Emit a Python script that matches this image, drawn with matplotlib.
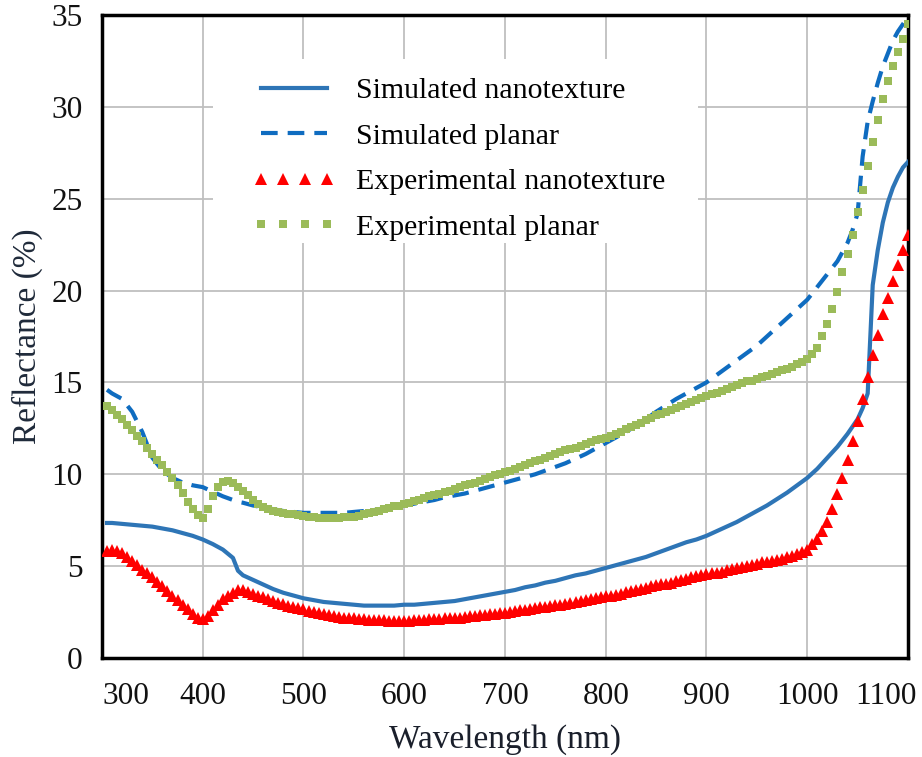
import matplotlib
matplotlib.use("Agg")
import matplotlib.pyplot as plt
import matplotlib.transforms as mtransforms
from matplotlib.patches import Rectangle
import numpy as np

plt.rcParams['font.family'] = ['Liberation Serif', 'DejaVu Serif']

# simulated curves (nm grid)
sim_wl = np.concatenate([[305], np.arange(310, 431, 10), [435],
                         np.arange(440, 1000, 10), np.arange(1000, 1101, 5)])

sim_nano = [7.35, 7.35, 7.3, 7.25, 7.2, 7.15, 7.05, 6.95, 6.8, 6.65, 6.45, 6.2, 5.9, 5.45, 4.75, 4.5,
            4.25, 4.0, 3.75, 3.55, 3.4, 3.25, 3.15, 3.05, 3.0, 2.95, 2.9, 2.85, 2.85, 2.85, 2.85,
            2.9, 2.9, 2.95, 3.0, 3.05, 3.1, 3.2, 3.3, 3.4, 3.5, 3.6, 3.7, 3.85, 3.95, 4.1, 4.2,
            4.35, 4.5, 4.6, 4.75, 4.9, 5.05, 5.2, 5.35, 5.5, 5.7, 5.9, 6.1, 6.3, 6.45, 6.65,
            6.9, 7.15, 7.4, 7.7, 8.0, 8.3, 8.65, 9.0, 9.4,
            9.8, 10.05, 10.3, 10.6, 10.9, 11.2, 11.5, 11.85, 12.2, 12.6, 13.0, 13.6, 14.4,
            20.3, 22.2, 23.7, 24.8, 25.6, 26.2, 26.7, 27.0]

sim_planar = [14.6, 14.4, 14.1, 13.4, 12.3, 10.9, 10.2, 9.8, 9.55, 9.4, 9.3, 9.05, 8.8, 8.6, 8.5, 8.45,
              8.3, 8.2, 8.1, 8.0, 7.95, 7.9, 7.9, 7.9, 7.9, 7.9, 7.95, 8.0, 8.05, 8.15, 8.2,
              8.3, 8.4, 8.5, 8.6, 8.75, 8.85, 8.95, 9.1, 9.25, 9.4, 9.55, 9.7, 9.85, 10.0, 10.2,
              10.4, 10.6, 10.85, 11.1, 11.4, 11.7, 12.0, 12.3, 12.65, 13.0, 13.4, 13.75, 14.1,
              14.4, 14.7, 15.0, 15.4, 15.8, 16.2, 16.6, 17.0, 17.5, 18.0, 18.5, 19.0,
              19.5, 19.85, 20.2, 20.55, 20.9, 21.25, 21.6, 22.1, 22.6, 23.3, 24.2, 27.3, 29.2,
              30.3, 31.3, 32.2, 32.9, 33.6, 34.1, 34.5, 34.9]

# measured curves, every 5 nm from 305 to 1100
exp_wl = np.arange(305, 1101, 5)

exp_nano = [5.8, 5.9, 5.85, 5.7, 5.5, 5.3, 5.05, 4.8, 4.6, 4.4,
            4.15, 3.9, 3.65, 3.4, 3.15, 2.9, 2.65, 2.4, 2.2, 2.1,
            2.3, 2.6, 2.9, 3.2, 3.4, 3.55, 3.7, 3.7, 3.6, 3.5,
            3.4, 3.3, 3.2, 3.1, 3.0, 2.95, 2.85, 2.8, 2.7, 2.65,
            2.55, 2.5, 2.45, 2.4, 2.35, 2.3, 2.25, 2.2, 2.2, 2.15,
            2.1, 2.1, 2.05, 2.05, 2.05, 2.05, 2.0, 2.0, 2.0, 2.0,
            2.0, 2.05, 2.05, 2.05, 2.1, 2.1, 2.1, 2.15, 2.2, 2.2,
            2.2, 2.25, 2.3, 2.3, 2.35, 2.35, 2.4, 2.4, 2.45, 2.45,
            2.5, 2.55, 2.6, 2.6, 2.65, 2.7, 2.75, 2.8, 2.85, 2.9,
            2.9, 2.95, 3.0, 3.05, 3.1, 3.15, 3.2, 3.25, 3.3, 3.35,
            3.4, 3.45, 3.5, 3.6, 3.65, 3.7, 3.75, 3.8, 3.9, 3.95,
            4.0, 4.05, 4.1, 4.2, 4.25, 4.3, 4.4, 4.45, 4.5, 4.55,
            4.6, 4.65, 4.7, 4.8, 4.85, 4.9, 4.95, 5.0, 5.05, 5.1,
            5.2, 5.25, 5.3, 5.35, 5.4, 5.5, 5.55, 5.65, 5.75, 5.9,
            6.2, 6.5, 6.9, 7.4, 8.1, 8.9, 9.8, 10.8, 11.8, 12.9,
            14.1, 15.3, 16.5, 17.6, 18.7, 19.6, 20.5, 21.4, 22.2, 23.0]

exp_planar = [13.7, 13.5, 13.25, 13.0, 12.7, 12.4, 12.1, 11.8, 11.45, 11.1,
              10.8, 10.5, 10.15, 9.8, 9.4, 9.0, 8.5, 8.1, 7.8, 7.6,
              8.1, 8.8, 9.3, 9.6, 9.65, 9.5, 9.3, 9.1, 8.85, 8.6,
              8.4, 8.2, 8.1, 8.0, 7.95, 7.9, 7.85, 7.85, 7.8, 7.75,
              7.7, 7.65, 7.6, 7.6, 7.6, 7.6, 7.6, 7.65, 7.65, 7.7,
              7.75, 7.85, 7.9, 7.95, 8.0, 8.1, 8.15, 8.25, 8.3, 8.4,
              8.45, 8.55, 8.6, 8.7, 8.8, 8.85, 8.95, 9.05, 9.1, 9.2,
              9.3, 9.4, 9.45, 9.55, 9.65, 9.75, 9.85, 9.95, 10.0, 10.1,
              10.2, 10.3, 10.4, 10.5, 10.6, 10.7, 10.8, 10.9, 11.0, 11.1,
              11.2, 11.3, 11.35, 11.45, 11.55, 11.65, 11.75, 11.85, 11.9, 12.0,
              12.1, 12.2, 12.3, 12.45, 12.55, 12.7, 12.8, 12.95, 13.05, 13.2,
              13.3, 13.4, 13.5, 13.6, 13.7, 13.85, 13.95, 14.05, 14.15, 14.25,
              14.35, 14.45, 14.55, 14.65, 14.75, 14.85, 14.95, 15.05, 15.1, 15.2,
              15.3, 15.35, 15.45, 15.55, 15.65, 15.75, 15.85, 16.0, 16.1, 16.3,
              16.55, 16.9, 17.5, 18.2, 19.0, 19.9, 21.0, 22.0, 23.0, 24.3,
              25.5, 26.8, 28.1, 29.3, 30.4, 31.4, 32.2, 33.0, 33.7, 34.5]

x_ticks = np.arange(300, 1101, 100)
y_ticks = np.arange(0, 36, 5)

fig = plt.figure(figsize=(9.22, 7.57), dpi=100)
ax = fig.add_axes([0.1106, 0.1308, 0.8742, 0.8494])

ax.plot(sim_wl, sim_nano, color='#2E75B6', lw=3, label='Simulated nanotexture', zorder=3)
ax.plot(sim_wl, sim_planar, color='#0F6CC0', lw=3, dashes=(4.0, 2.4),
        label='Simulated planar', zorder=3)
ax.plot(exp_wl, exp_nano, ls='none', marker='^', ms=9, mew=0, color='#FF0000',
        label='Experimental nanotexture', zorder=4)
ax.plot(exp_wl, exp_planar, ls='none', marker='s', ms=5.5, mew=0, color='#9BBB59',
        label='Experimental planar', zorder=4)

ax.set_xlim(300, 1100)
ax.set_ylim(0, 35)
ax.set_xticks(x_ticks)
ax.set_yticks(y_ticks)
ax.set_axisbelow(True)
ax.grid(True, color='#BFBFBF', lw=1.3)
ax.tick_params(length=0, labelsize=22.5, colors='#111111')
ax.tick_params(axis='y', pad=14)
ax.tick_params(axis='x', pad=17)
for s in ax.spines.values():
    s.set_linewidth(2.5)
    s.set_color('black')

# first and last x labels pulled inside, like the original
xlabels = ax.get_xticklabels()
xlabels[0].set_horizontalalignment('left')
xlabels[-1].set_horizontalalignment('right')
xlabels[-1].set_transform(xlabels[-1].get_transform() +
                          mtransforms.ScaledTranslation(0.09, 0, fig.dpi_scale_trans))

ax.set_xlabel('Wavelength (nm)', fontsize=24, color='#1a1f2b', labelpad=10)
ax.set_ylabel('Reflectance (%)', fontsize=24, color='#1f2a3a', labelpad=6)

# white block behind the legend hides the grid
ax.add_patch(Rectangle((0.138, 0.645), 0.601, 0.287, transform=ax.transAxes,
                       facecolor='white', edgecolor='none', zorder=1))
ax.legend(loc='upper left', bbox_to_anchor=(0.186, 0.903), frameon=False,
          fontsize=21.5, numpoints=4, handlelength=2.8, handletextpad=0.7,
          labelspacing=0.62, borderpad=0, borderaxespad=0)

fig.savefig('out.png', dpi=100)
